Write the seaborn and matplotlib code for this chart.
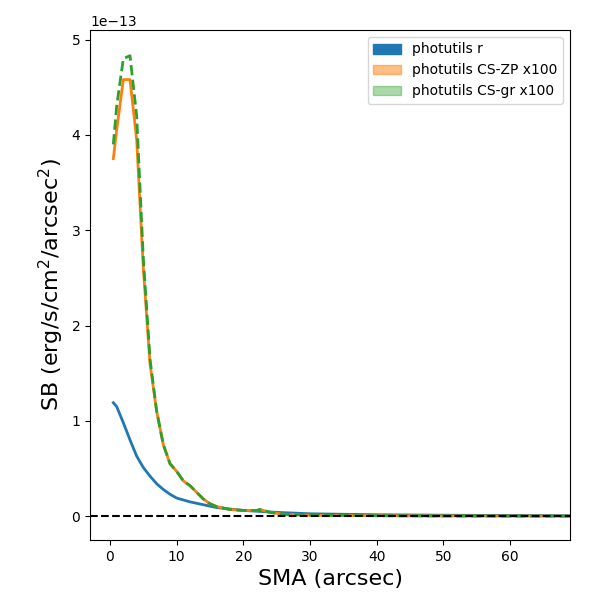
import numpy as np
import matplotlib
matplotlib.use("Agg")
import matplotlib.pyplot as plt
import matplotlib.patches as mpatches
import seaborn as sns

sma_r = [0.5, 1, 2, 3, 4, 5, 6, 7, 8, 9, 10, 12, 14, 16, 20, 25, 30, 40, 50, 69]
sb_r = [1.19, 1.15, 0.98, 0.80, 0.63, 0.51, 0.42, 0.34, 0.28, 0.23, 0.19, 0.15, 0.12, 0.09, 0.06, 0.04, 0.025, 0.015, 0.01, 0.005]

sma_cs = [0.5, 1, 2, 3, 4, 5, 6, 7, 8, 9, 10, 11, 12, 13, 14, 15, 16, 18, 20, 22, 22.5, 24, 26, 30, 40, 50, 69]
sb_zp = [3.75, 4.05, 4.58, 4.58, 3.95, 2.6, 1.6, 1.1, 0.75, 0.55, 0.47, 0.37, 0.32, 0.25, 0.18, 0.13, 0.10, 0.07, 0.06, 0.06, 0.07, 0.04, 0.02, 0.01, 0.005, 0.002, 0.0]
sb_gr = [3.9, 4.3, 4.8, 4.83, 4.2, 2.7, 1.65, 1.1, 0.75, 0.55, 0.47, 0.37, 0.32, 0.25, 0.18, 0.13, 0.10, 0.07, 0.06, 0.06, 0.07, 0.04, 0.02, 0.01, 0.005, 0.002, 0.0]

scale = 1e-13
fig, ax = plt.subplots(figsize=(6, 6), dpi=100)
sns.lineplot(x=sma_r, y=np.array(sb_r) * scale, ax=ax, color="C0", lw=2)
sns.lineplot(x=sma_cs, y=np.array(sb_zp) * scale, ax=ax, color="C1", lw=2)
sns.lineplot(x=sma_cs, y=np.array(sb_gr) * scale, ax=ax, color="C2", lw=2, linestyle="--")
ax.axhline(0, color="k", ls="--")
ax.set_xlim(-3, 69)
ax.set_ylim(-0.25e-13, 5.1e-13)
ax.set_xlabel("SMA (arcsec)", fontsize=16)
ax.set_ylabel("SB (erg/s/cm$^2$/arcsec$^2$)", fontsize=16)
handles = [mpatches.Patch(color="C0", label="photutils r"),
           mpatches.Patch(color="C1", alpha=0.5, label="photutils CS-ZP x100"),
           mpatches.Patch(color="C2", alpha=0.4, label="photutils CS-gr x100")]
ax.legend(handles=handles, loc="upper right")
fig.subplots_adjust(left=0.15, right=0.95, top=0.95, bottom=0.1)
fig.savefig("out.png")
